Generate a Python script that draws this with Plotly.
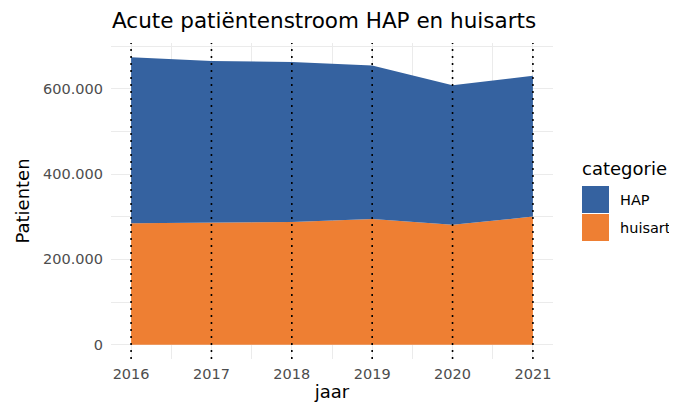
import plotly.graph_objects as go

###
# data
###
jaren = [2016, 2017, 2018, 2019, 2020, 2021]
huisarts = [285000, 286500, 288000, 295000, 281000, 300500]
hap = [389000, 379000, 375000, 360000, 327500, 330500]

categorieen = ['HAP', 'huisarts']
kleuren = {'HAP': '#3562A0', 'huisarts': '#EE7F33'}

y_ticks = [0, 200000, 400000, 600000]
y_labels = ['0', '200.000', '400.000', '600.000']

FONT = 'DejaVu Sans'

fig = go.Figure()

# bottom layer first, then HAP stacked on top
fig.add_trace(go.Scatter(x=jaren, y=huisarts, name='huisarts',
                         mode='lines', line=dict(width=0),
                         fillcolor=kleuren['huisarts'],
                         stackgroup='one', showlegend=False))
fig.add_trace(go.Scatter(x=jaren, y=hap, name='HAP',
                         mode='lines', line=dict(width=0),
                         fillcolor=kleuren['HAP'],
                         stackgroup='one', showlegend=False))

# dotted vertical line at every year
for j in jaren:
    fig.add_vline(x=j, line=dict(color='black', width=1.6, dash='2px,5px'))

# page has an 8px body margin; panel on screen spans 111..553 x 43..359
def px_x(p):
    return (p - 111) / 442

def px_y(p):
    return (359 - p) / 316

# hand-made legend with big ggplot-style keys
fig.add_annotation(text='categorie', xref='paper', yref='paper',
                   x=px_x(580), y=px_y(168), xanchor='left', yanchor='middle',
                   showarrow=False, font=dict(family=FONT, size=18, color='black'))
key_top = [186, 214]
for cat, top in zip(categorieen, key_top):
    fig.add_shape(type='rect', xref='paper', yref='paper',
                  x0=px_x(582), x1=px_x(609), y0=px_y(top), y1=px_y(top + 27),
                  fillcolor=kleuren[cat], line=dict(width=0))
    fig.add_annotation(text=cat, xref='paper', yref='paper',
                       x=px_x(618), y=px_y(top + 13.5), xanchor='left',
                       yanchor='middle', showarrow=False,
                       font=dict(family=FONT, size=14.5, color='black'))

grid = '#EBEBEB'
fig.update_xaxes(range=[2015.75, 2021.25], tickvals=jaren,
                 showgrid=True, gridcolor=grid, gridwidth=1.1,
                 minor=dict(dtick=0.5, tick0=2015.5, showgrid=True,
                            gridcolor=grid, gridwidth=0.6),
                 zeroline=False, showline=False, ticks='',
                 ticklabelstandoff=4,
                 tickfont=dict(family=FONT, size=14.5, color='#4D4D4D'),
                 title=dict(text='jaar', standoff=4,
                            font=dict(family=FONT, size=18, color='black')))
fig.update_yaxes(range=[-33700, 707700], tickvals=y_ticks, ticktext=y_labels,
                 showgrid=True, gridcolor=grid, gridwidth=1.1,
                 minor=dict(dtick=100000, tick0=0, showgrid=True,
                            gridcolor=grid, gridwidth=0.6),
                 zeroline=False, showline=False, ticks='',
                 ticklabelstandoff=7,
                 tickfont=dict(family=FONT, size=14.5, color='#4D4D4D'),
                 title=dict(text='Patienten', standoff=8,
                            font=dict(family=FONT, size=18, color='black')))

fig.update_layout(
    width=677, height=405,
    margin=dict(l=103, r=132, t=35, b=54, autoexpand=False),
    paper_bgcolor='white', plot_bgcolor='white',
    title=dict(text='Acute patiëntenstroom HAP en huisarts',
               x=104 / 677, xanchor='left', y=1 - 12 / 405, yanchor='middle',
               font=dict(family=FONT, size=21.5, color='black')),
    font=dict(family=FONT),
)

fig.write_html("out.html")
